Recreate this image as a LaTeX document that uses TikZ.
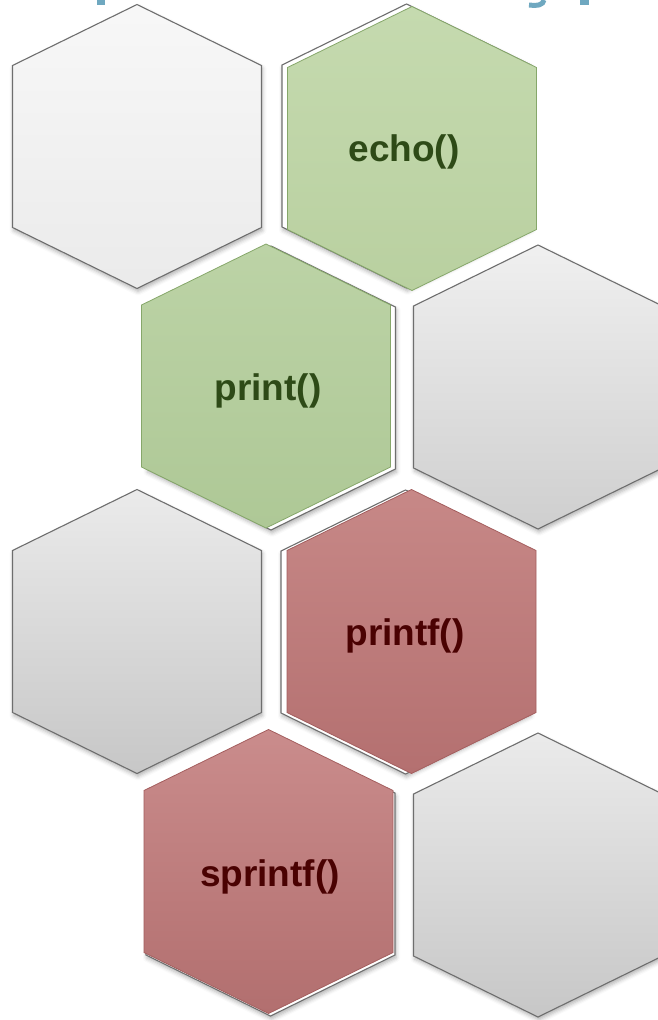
\documentclass[tikz,border=0pt]{standalone}
\usepackage{fontspec}
\setmainfont{Liberation Sans}
\usetikzlibrary{shadows.blur}
\definecolor{hexline}{HTML}{6E6E6E}
\definecolor{greenline}{HTML}{86A76A}
\definecolor{redline}{HTML}{A45E5E}
\definecolor{greentext}{HTML}{2E4A17}
\definecolor{redtext}{HTML}{4A0202}
\definecolor{titleblue}{HTML}{6FA8C0}
\tikzset{
  hexp/.style 2 args={insert path={(#1,#2) ++(0,-142) -- ++(124.5,61) -- ++(0,162) -- ++(-124.5,61) -- ++(-124.5,-61) -- ++(0,-162) -- cycle}},
  hexshadow/.style={blur shadow={shadow xshift=1pt, shadow yshift=-3pt, shadow blur radius=4pt, shadow opacity=30}},
  grayhex/.style={draw=hexline, line width=1.1pt, hexshadow},
  backhex/.style={draw=hexline, line width=1.1pt, fill=white, hexshadow},
  greenhex/.style={draw=greenline, line width=0.8pt},
  redhex/.style={draw=redline, line width=0.8pt},
  hexlabel/.style={font=\fontsize{37}{42}\selectfont\bfseries, inner sep=0pt},
}
\begin{document}
\begin{tikzpicture}[x=1pt,y=-1pt]
\useasboundingbox (0,0) rectangle (658,1020);
% title fragments (clipped title)
\fill[titleblue] (97,0) rectangle (105,5);
\fill[titleblue] (580,0) rectangle (589,5);
\draw[titleblue, line width=5pt] (544,0) .. controls (543,5) and (538,6) .. (529,5);
% row 1
\path[grayhex, top color=white!97!black, bottom color=white!92!black, hexp={137}{146.5}];
\path[backhex, hexp={406.5}{146}];
\path[greenhex, top color={rgb,255:red,197;green,218;blue,175}, bottom color={rgb,255:red,185;green,208;blue,160}, hexp={412}{148.5}];
\node[hexlabel, text=greentext] (echo) at (404,152) {echo()};
% row 2
\path[backhex, hexp={271}{388}];
\path[greenhex, top color={rgb,255:red,188;green,211;blue,166}, bottom color={rgb,255:red,174;green,200;blue,150}, hexp={266}{386}];
\node[hexlabel, text=greentext] (print) at (268,391) {print()};
\path[grayhex, top color=white!94!black, bottom color=white!81!black, hexp={538}{387}];
% row 3
\path[grayhex, top color=white!92!black, bottom color=white!78!black, hexp={137}{631.5}];
\path[backhex, hexp={405.5}{632}];
\path[redhex, top color={rgb,255:red,199;green,136;blue,135}, bottom color={rgb,255:red,180;green,112;blue,112}, hexp={411.5}{631.5}];
\node[hexlabel, text=redtext] (printf) at (405,636) {printf()};
% row 4
\path[backhex, hexp={270.5}{874}];
\path[redhex, top color={rgb,255:red,202;green,140;blue,140}, bottom color={rgb,255:red,178;green,111;blue,111}, hexp={268.5}{871.5}];
\node[hexlabel, text=redtext] (sprintf) at (270,877) {sprintf()};
\path[grayhex, top color=white!92!black, bottom color=white!78!black, hexp={538}{875}];
\end{tikzpicture}
\end{document}
